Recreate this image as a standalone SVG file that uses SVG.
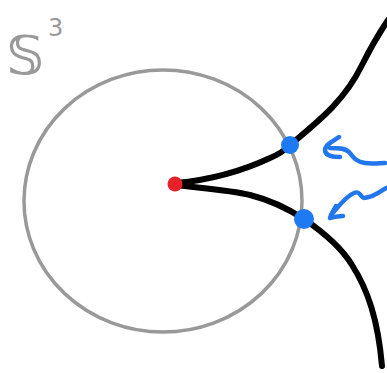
<svg xmlns="http://www.w3.org/2000/svg" width="387" height="373" viewBox="0 0 387 373">
<style>
.lbl{font-family:"DejaVu Sans","Noto Sans",sans-serif;fill:#999}
.curve{fill:none;stroke:#000;stroke-width:6;stroke-linecap:round;stroke-linejoin:round}
.arr{fill:none;stroke:#2277ee;stroke-width:4.5;stroke-linecap:round;stroke-linejoin:round}
</style>
<rect width="387" height="373" fill="#fff"/>
<g id="label">
<text class="lbl" x="6" y="74" font-size="54" font-weight="bold">𝕊</text>
<text class="lbl" x="48" y="36" font-size="24">3</text>
</g>
<g id="sphere">
<ellipse cx="163" cy="201" rx="139" ry="131" fill="none" stroke="#999" stroke-width="3.5"/>
</g>
<g id="connectors">
<path class="curve" d="M176 183 C210 180 240 172 270 158 C280 154 285 150 290 145 C320 120 345 100 362 65 C372 45 378 35 388 20"/>
<path class="curve" d="M176 185 C200 188 230 190 250 195 C270 200 290 210 304 219 C320 230 340 245 352 265 C368 290 378 320 382 366"/>
<path class="arr" d="M339 137 C333 141 325 145 325 150 C325 156 333 157 340 157 M330 148 C338 148 345 148 349 152 C353 157 356 162 365 163 C373 164 380 163 385 163"/>
<path class="arr" d="M336 206 C334 210 331 214 330 218 C334 217 339 216 343 216 M331 215 C338 207 346 196 354 193 C360 190 361 198 364 198 C372 198 380 192 386 188"/>
</g>
<g id="red-point"><circle cx="175" cy="184" r="7.5" fill="#e8202a"/></g>
<g id="blue-point-1"><circle cx="290" cy="145" r="9" fill="#1e7af2"/></g>
<g id="blue-point-2"><circle cx="304" cy="219" r="10" fill="#1e7af2"/></g>
</svg>
